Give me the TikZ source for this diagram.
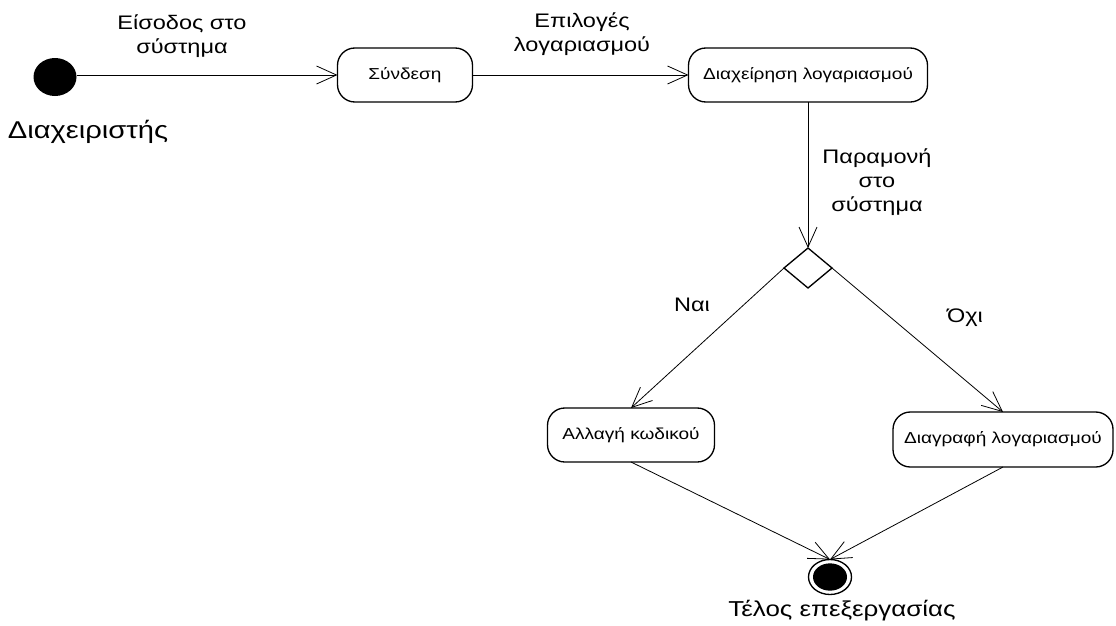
\documentclass[tikz,border=0pt]{standalone}
\usepackage{fontspec}
\setmainfont{Liberation Sans}[FakeStretch=1.2]
\usetikzlibrary{arrows.meta,shapes.geometric}
\begin{document}
\begin{tikzpicture}[x=0.75pt,y=-0.75pt,
  every node/.style={inner sep=0pt, outer sep=0pt},
  state/.style={draw, line width=1pt, rounded corners=13pt,
    minimum height=40.5pt, font=\fontsize{11.9}{14}\selectfont},
  lbl/.style={align=center, font=\fontsize{14.7}{18}\selectfont},
  biglbl/.style={align=center, font=\fontsize{18.2}{22}\selectfont},
  endlbl/.style={align=center, font=\fontsize{16.2}{20}\selectfont},
  flow/.style={line width=0.6pt, -{Straight Barb[length=15pt,width=13.5pt,line width=0.6pt]}}
]
\useasboundingbox (0,0) rectangle (1116,625);

% start and end markers
\node[ellipse, fill=black, minimum width=32.25pt, minimum height=28.5pt] (start) at (55,77) {};
\node[ellipse, draw, line width=1pt, minimum width=32.25pt, minimum height=26.25pt] (stop) at (830,577) {};
\node[ellipse, fill=black, minimum width=25.5pt, minimum height=20.5pt] at (stop) {};

% activity states
\node[state, minimum width=101.25pt] (syndesi) at (405,75) {Σύνδεση};
\node[state, minimum width=179.25pt] (diax) at (808,75) {Διαχείρηση λογαριασμού};
\node[state, minimum width=125.25pt] (allagi) at (631,435) {Αλλαγή κωδικού};
\node[state, minimum width=165pt, minimum height=41.25pt] (diagrafi) at (1003,439.5) {Διαγραφή λογαριασμού};

% decision
\node[diamond, draw, line width=1pt, minimum width=36pt, minimum height=30pt] (dec) at (808,268) {};

% transitions
\draw[flow] (start.east |- syndesi) -- (syndesi.west);
\draw[flow] (syndesi.east) -- (diax.west);
\draw[flow] (diax.south) -- (dec.north);
\draw[flow] (dec.west) -- (allagi.north);
\draw[flow] (dec.east) -- (diagrafi.north);
\draw[flow] (allagi.south) -- (stop.north);
\draw[flow] (diagrafi.south) -- (stop.north);

% labels
\node[lbl] (l1) at (182,36) {Είσοδος στο\\σύστημα};
\node[lbl] (l2) at (582,34) {Επιλογές\\λογαριασμού};
\node[lbl] (l3) at (877,182) {Παραμονή\\στο\\σύστημα};
\node[lbl] (l4) at (692,305) {Ναι};
\node[lbl] (l5) at (965,318) {Όχι};
\node[biglbl] (l6) at (88,132) {Διαχειριστής};
\node[endlbl] (l7) at (842,611) {Τέλος επεξεργασίας};
\end{tikzpicture}
\end{document}
